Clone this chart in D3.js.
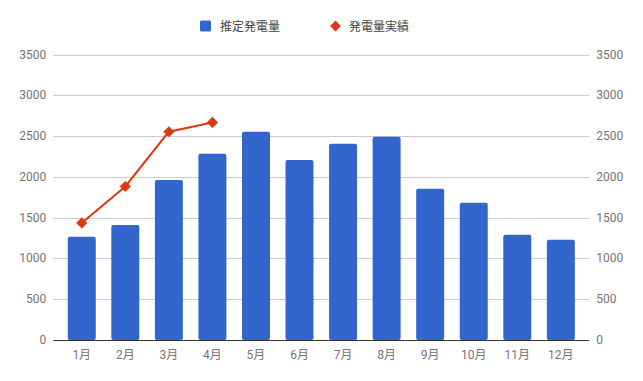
<!DOCTYPE html>
<html>
<head>
<meta charset="utf-8">
<script src="https://cdn.jsdelivr.net/npm/d3@7"></script>
<style>
  body { margin: 0; background: #fff; }
  text { font-family: Roboto, "Noto Sans CJK JP", sans-serif; }
</style>
</head>
<body>
<div id="chart"></div>
<script>
// Data
const months = ["1月", "2月", "3月", "4月", "5月", "6月", "7月", "8月", "9月", "10月", "11月", "12月"];
const estimated = [1265, 1410, 1962, 2282, 2552, 2208, 2405, 2493, 1853, 1682, 1290, 1228];
const actual = [1435, 1882, 2553, 2667];
const yTicks = [0, 500, 1000, 1500, 2000, 2500, 3000, 3500];
const seriesNames = ["推定発電量", "発電量実績"];

const width = 643;
const height = 381;
const margin = { top: 54.5, right: 53.7, bottom: 41, left: 53.3 };

const svg = d3.select("#chart").append("svg")
    .attr("width", width)
    .attr("height", height);

const x = d3.scaleBand()
    .domain(months)
    .range([margin.left, width - margin.right])
    .paddingInner(0.357)
    .paddingOuter(0.332);

const y = d3.scaleLinear()
    .domain([0, 3500])
    .range([height - margin.bottom, margin.top]);

// Gridlines
svg.append("g")
    .selectAll("line")
    .data(yTicks.filter(d => d > 0))
    .enter()
    .append("line")
    .attr("x1", margin.left)
    .attr("x2", width - margin.right)
    .attr("y1", d => Math.round(y(d)) + 0.5)
    .attr("y2", d => Math.round(y(d)) + 0.5)
    .attr("stroke", "#cccccc");

// Axis labels left and right
svg.append("g")
    .selectAll("text")
    .data(yTicks)
    .enter()
    .append("text")
    .attr("x", margin.left - 7)
    .attr("y", d => y(d) + 4)
    .attr("text-anchor", "end")
    .attr("font-size", 12)
    .attr("fill", "#757575")
    .text(d => d);

svg.append("g")
    .selectAll("text")
    .data(yTicks)
    .enter()
    .append("text")
    .attr("x", width - margin.right + 7)
    .attr("y", d => y(d) + 4)
    .attr("text-anchor", "start")
    .attr("font-size", 12)
    .attr("fill", "#757575")
    .text(d => d);

// Bars
svg.append("g")
    .selectAll("rect")
    .data(estimated)
    .enter()
    .append("rect")
    .attr("x", (d, i) => x(months[i]))
    .attr("y", d => y(d))
    .attr("width", x.bandwidth())
    .attr("height", d => y(0) - y(d))
    .attr("rx", 2)
    .attr("fill", "#3366cc");

// Baseline
svg.append("line")
    .attr("x1", margin.left)
    .attr("x2", width - margin.right)
    .attr("y1", Math.round(y(0)) + 0.5)
    .attr("y2", Math.round(y(0)) + 0.5)
    .attr("stroke", "#333333");

// X labels
svg.append("g")
    .selectAll("text")
    .data(months)
    .enter()
    .append("text")
    .attr("x", d => x(d) + x.bandwidth() / 2)
    .attr("y", height - margin.bottom + 19)
    .attr("text-anchor", "middle")
    .attr("font-size", 12)
    .attr("fill", "#757575")
    .text(d => d);

// Line series
const line = d3.line()
    .x((d, i) => x(months[i]) + x.bandwidth() / 2)
    .y(d => y(d));

svg.append("path")
    .datum(actual)
    .attr("d", line)
    .attr("fill", "none")
    .attr("stroke", "#dc3912")
    .attr("stroke-width", 2);

const diamond = d3.symbol().type(d3.symbolDiamond2).size(80);
svg.append("g")
    .selectAll("path")
    .data(actual)
    .enter()
    .append("path")
    .attr("d", diamond)
    .attr("transform", (d, i) => `translate(${x(months[i]) + x.bandwidth() / 2},${y(d)})`)
    .attr("fill", "#dc3912");

// Legend
const legend = svg.append("g");
legend.append("rect")
    .attr("x", 200)
    .attr("y", 20.5)
    .attr("width", 11)
    .attr("height", 11)
    .attr("rx", 1.5)
    .attr("fill", "#3366cc");
legend.append("text")
    .attr("x", 220)
    .attr("y", 30.5)
    .attr("font-size", 12)
    .attr("fill", "#444444")
    .text(seriesNames[0]);
legend.append("path")
    .attr("d", d3.symbol().type(d3.symbolDiamond2).size(75))
    .attr("transform", "translate(335.5,26)")
    .attr("fill", "#dc3912");
legend.append("text")
    .attr("x", 349)
    .attr("y", 30.5)
    .attr("font-size", 12)
    .attr("fill", "#444444")
    .text(seriesNames[1]);
</script>
</body>
</html>
